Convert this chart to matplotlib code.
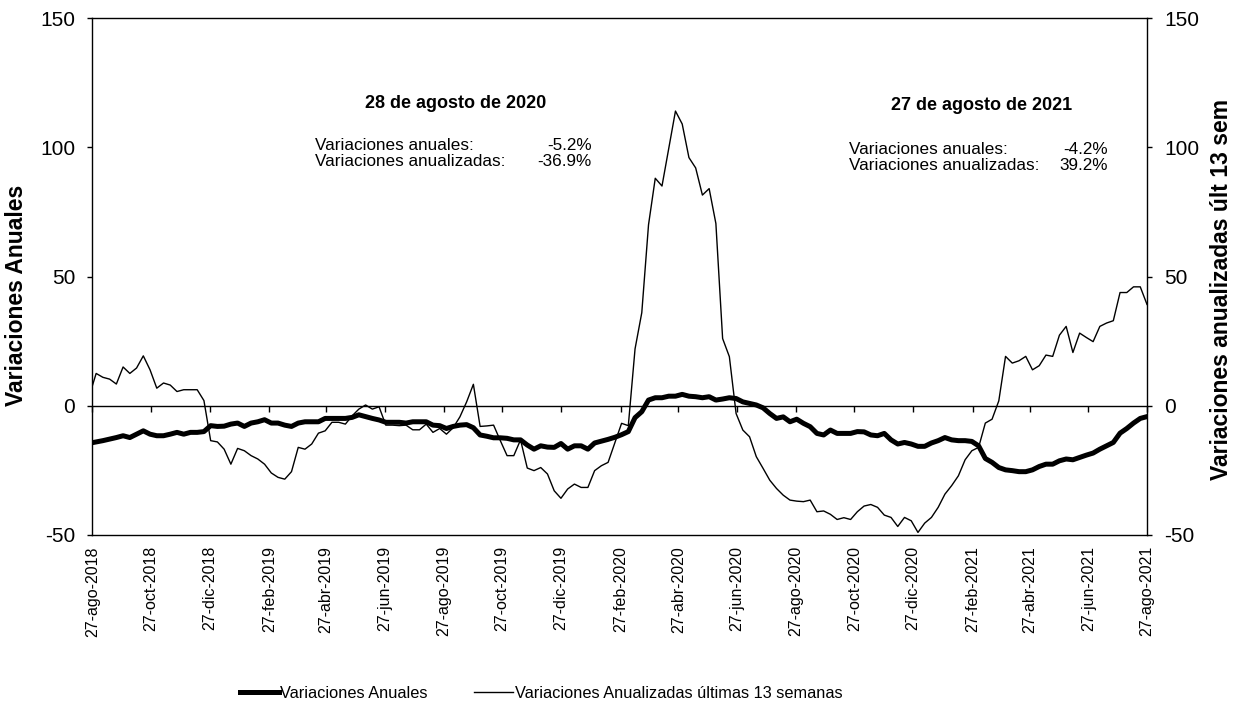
import numpy as np
import pandas as pd
import matplotlib
matplotlib.use("Agg")
import matplotlib.pyplot as plt
import matplotlib.dates as mdates
from matplotlib.lines import Line2D

plt.rcParams['font.family'] = ['Liberation Sans', 'DejaVu Sans']
plt.rcParams['axes.unicode_minus'] = False

# weekly data (Fridays); first point falls just left of the axis and is clipped
dates = pd.date_range('2018-08-24', '2021-08-27', freq='7D')

anual = [
    -14.5, -14.0, -13.5, -12.9, -12.3, -11.6, -12.3, -11.0, -9.7, -11.0,
    -11.6, -11.6, -11.0, -10.3, -11.0, -10.3, -10.3, -10.0, -7.7, -8.0,
    -7.9, -7.1, -6.7, -8.0, -6.7, -6.2, -5.4, -6.7, -6.7, -7.5,
    -8.0, -6.7, -6.2, -6.2, -6.2, -4.9, -4.9, -4.9, -4.9, -4.5,
    -3.5, -4.2, -4.9, -5.5, -6.4, -6.4, -6.4, -6.7, -6.2, -6.2,
    -6.2, -7.5, -7.7, -8.8, -8.0, -7.5, -7.3, -8.5, -11.3, -11.8,
    -12.4, -12.4, -12.6, -13.2, -13.2, -15.2, -16.8, -15.5, -16.0, -16.1,
    -14.6, -16.8, -15.5, -15.5, -16.8, -14.4, -13.7, -13.0, -12.2, -11.2,
    -10.0, -4.6, -2.3, 2.2, 3.1, 3.1, 3.7, 3.7, 4.4, 3.7,
    3.5, 3.1, 3.5, 2.2, 2.6, 3.1, 2.8, 1.5, 0.9, 0.3,
    -0.8, -3.0, -4.9, -4.3, -6.2, -5.2, -6.8, -8.1, -10.7, -11.3,
    -9.4, -10.7, -10.7, -10.7, -10.0, -10.1, -11.3, -11.6, -10.7, -13.2,
    -14.8, -14.2, -14.8, -15.7, -15.7, -14.4, -13.5, -12.3, -13.2, -13.5,
    -13.5, -13.8, -15.5, -20.4, -21.9, -23.9, -24.8, -25.1, -25.5, -25.5,
    -24.8, -23.5, -22.6, -22.6, -21.3, -20.6, -20.9, -20.0, -19.1, -18.3,
    -16.8, -15.5, -14.2, -10.6, -8.8, -6.7, -4.9, -4.2,
]

anualizada = [
    4.0, 12.5, 11.0, 10.3, 8.4, 15.0, 12.5, 14.6, 19.3, 13.9,
    6.8, 8.8, 8.0, 5.5, 6.2, 6.2, 6.2, 2.0, -13.5, -14.0,
    -16.8, -22.6, -16.5, -17.4, -19.3, -20.6, -22.6, -26.0, -27.7, -28.4,
    -25.5, -16.1, -16.8, -14.8, -10.6, -9.7, -6.4, -6.4, -7.1, -3.9,
    -1.3, 0.3, -1.3, -0.4, -7.5, -7.5, -7.7, -7.5, -9.3, -9.3,
    -7.1, -10.3, -8.8, -11.0, -8.5, -4.3, 1.5, 8.3, -8.0, -7.8,
    -7.5, -13.5, -19.3, -19.3, -13.2, -24.1, -25.1, -23.9, -26.4, -32.9,
    -35.8, -32.2, -30.3, -31.6, -31.6, -25.1, -23.2, -21.9, -14.3, -6.8,
    -7.7, 22.0, 36.0, 70.0, 88.0, 85.0, 99.5, 114.0, 109.0, 96.0,
    92.0, 81.5, 84.0, 70.5, 26.0, 19.0, -3.0, -9.4, -12.0, -19.7,
    -24.2, -28.8, -32.0, -34.6, -36.5, -36.9, -37.1, -36.5, -41.0, -40.7,
    -42.0, -44.0, -43.3, -44.0, -41.0, -38.8, -38.2, -39.3, -42.3, -43.2,
    -46.7, -43.2, -44.5, -49.0, -45.4, -43.2, -39.3, -34.2, -30.9, -27.1,
    -20.9, -17.4, -16.1, -6.7, -5.2, 1.9, 19.1, 16.5, 17.4, 19.1,
    13.9, 15.5, 19.6, 19.1, 27.3, 30.7, 20.6, 28.1, 26.4, 24.8,
    30.7, 32.0, 32.9, 43.8, 43.8, 46.0, 46.0, 39.2,
]

meses = ['ene', 'feb', 'mar', 'abr', 'may', 'jun',
         'jul', 'ago', 'sep', 'oct', 'nov', 'dic']
tick_dates = [pd.Timestamp('2018-08-27') + pd.DateOffset(months=2 * i) for i in range(19)]
tick_labels = ['27-%s-%d' % (meses[d.month - 1], d.year) for d in tick_dates]

y_ticks = [-50, 0, 50, 100, 150]

label_left = 'Variaciones Anuales'
label_right = 'Variaciones anualizadas últ 13 sem'
legend_labels = ['Variaciones Anuales', 'Variaciones Anualizadas últimas 13 semanas']

box_2020 = ['28 de agosto de 2020', '-5.2%', '-36.9%']
box_2021 = ['27 de agosto de 2021', '-4.2%', '39.2%']

W, H = 1242, 711


def px(x, y):
    """pixel position (from top-left) -> figure fraction"""
    return x / W, 1 - y / H


fig = plt.figure(figsize=(W / 100, H / 100), dpi=100)
ax = fig.add_axes([92.3 / W, (H - 535) / H, (1147 - 92.3) / W, (535 - 18) / H])

tick_num = mdates.date2num(tick_dates)

# category axis crossing at zero, tick marks hanging down from it
ax.axhline(0, color='black', lw=1.0, zorder=1)
ax.plot(tick_num, np.zeros(len(tick_num)), ls='none', marker=3, markersize=4.3,
        markeredgewidth=1.0, color='black', zorder=1, clip_on=False)

ax.plot(dates, anual, color='black', lw=3.6, solid_joinstyle='round', zorder=3)
ax.plot(dates, anualizada, color='black', lw=1.0, zorder=4)

ax.set_xlim(mdates.date2num(pd.Timestamp('2018-08-27')), mdates.date2num(pd.Timestamp('2021-08-27')))
ax.set_ylim(-50, 150)
ax.set_yticks(y_ticks)
ax.tick_params(axis='y', direction='out', length=3.8, width=1, pad=8.5,
               labelsize=15, left=True, right=True, labelleft=True, labelright=True)
ax.set_xticks(tick_num)
ax.set_xticklabels(tick_labels, rotation=90, fontsize=11.5)
ax.tick_params(axis='x', length=0, pad=8)

for s in ax.spines.values():
    s.set_linewidth(1.0)

fig.text(*px(17, 295), label_left, rotation=90, ha='center', va='center',
         fontsize=16.5, fontweight='bold')
fig.text(*px(1222, 289), label_right, rotation=90, ha='center', va='center',
         fontsize=16.5, fontweight='bold')

# annotation boxes
fig.text(*px(456, 104), box_2020[0], ha='center', va='center', fontsize=13, fontweight='bold')
fig.text(*px(315, 145), 'Variaciones anuales:', ha='left', va='center', fontsize=12.3)
fig.text(*px(592, 145), box_2020[1], ha='right', va='center', fontsize=12.3)
fig.text(*px(315, 161), 'Variaciones anualizadas:', ha='left', va='center', fontsize=12.3)
fig.text(*px(592, 161), box_2020[2], ha='right', va='center', fontsize=12.3)

fig.text(*px(982, 106), box_2021[0], ha='center', va='center', fontsize=13, fontweight='bold')
fig.text(*px(849, 150), 'Variaciones anuales:', ha='left', va='center', fontsize=12.3)
fig.text(*px(1108, 150), box_2021[1], ha='right', va='center', fontsize=12.3)
fig.text(*px(849, 166), 'Variaciones anualizadas:', ha='left', va='center', fontsize=12.3)
fig.text(*px(1108, 166), box_2021[2], ha='right', va='center', fontsize=12.3)

handles = [Line2D([], [], color='black', lw=3.6), Line2D([], [], color='black', lw=1.0)]
fig.legend(handles, legend_labels, loc='center', bbox_to_anchor=px(541, 693), ncol=2,
           frameon=False, fontsize=11.8, handlelength=2.4, handletextpad=0.1,
           columnspacing=2.8, borderpad=0)

fig.savefig('out.png', dpi=100)
